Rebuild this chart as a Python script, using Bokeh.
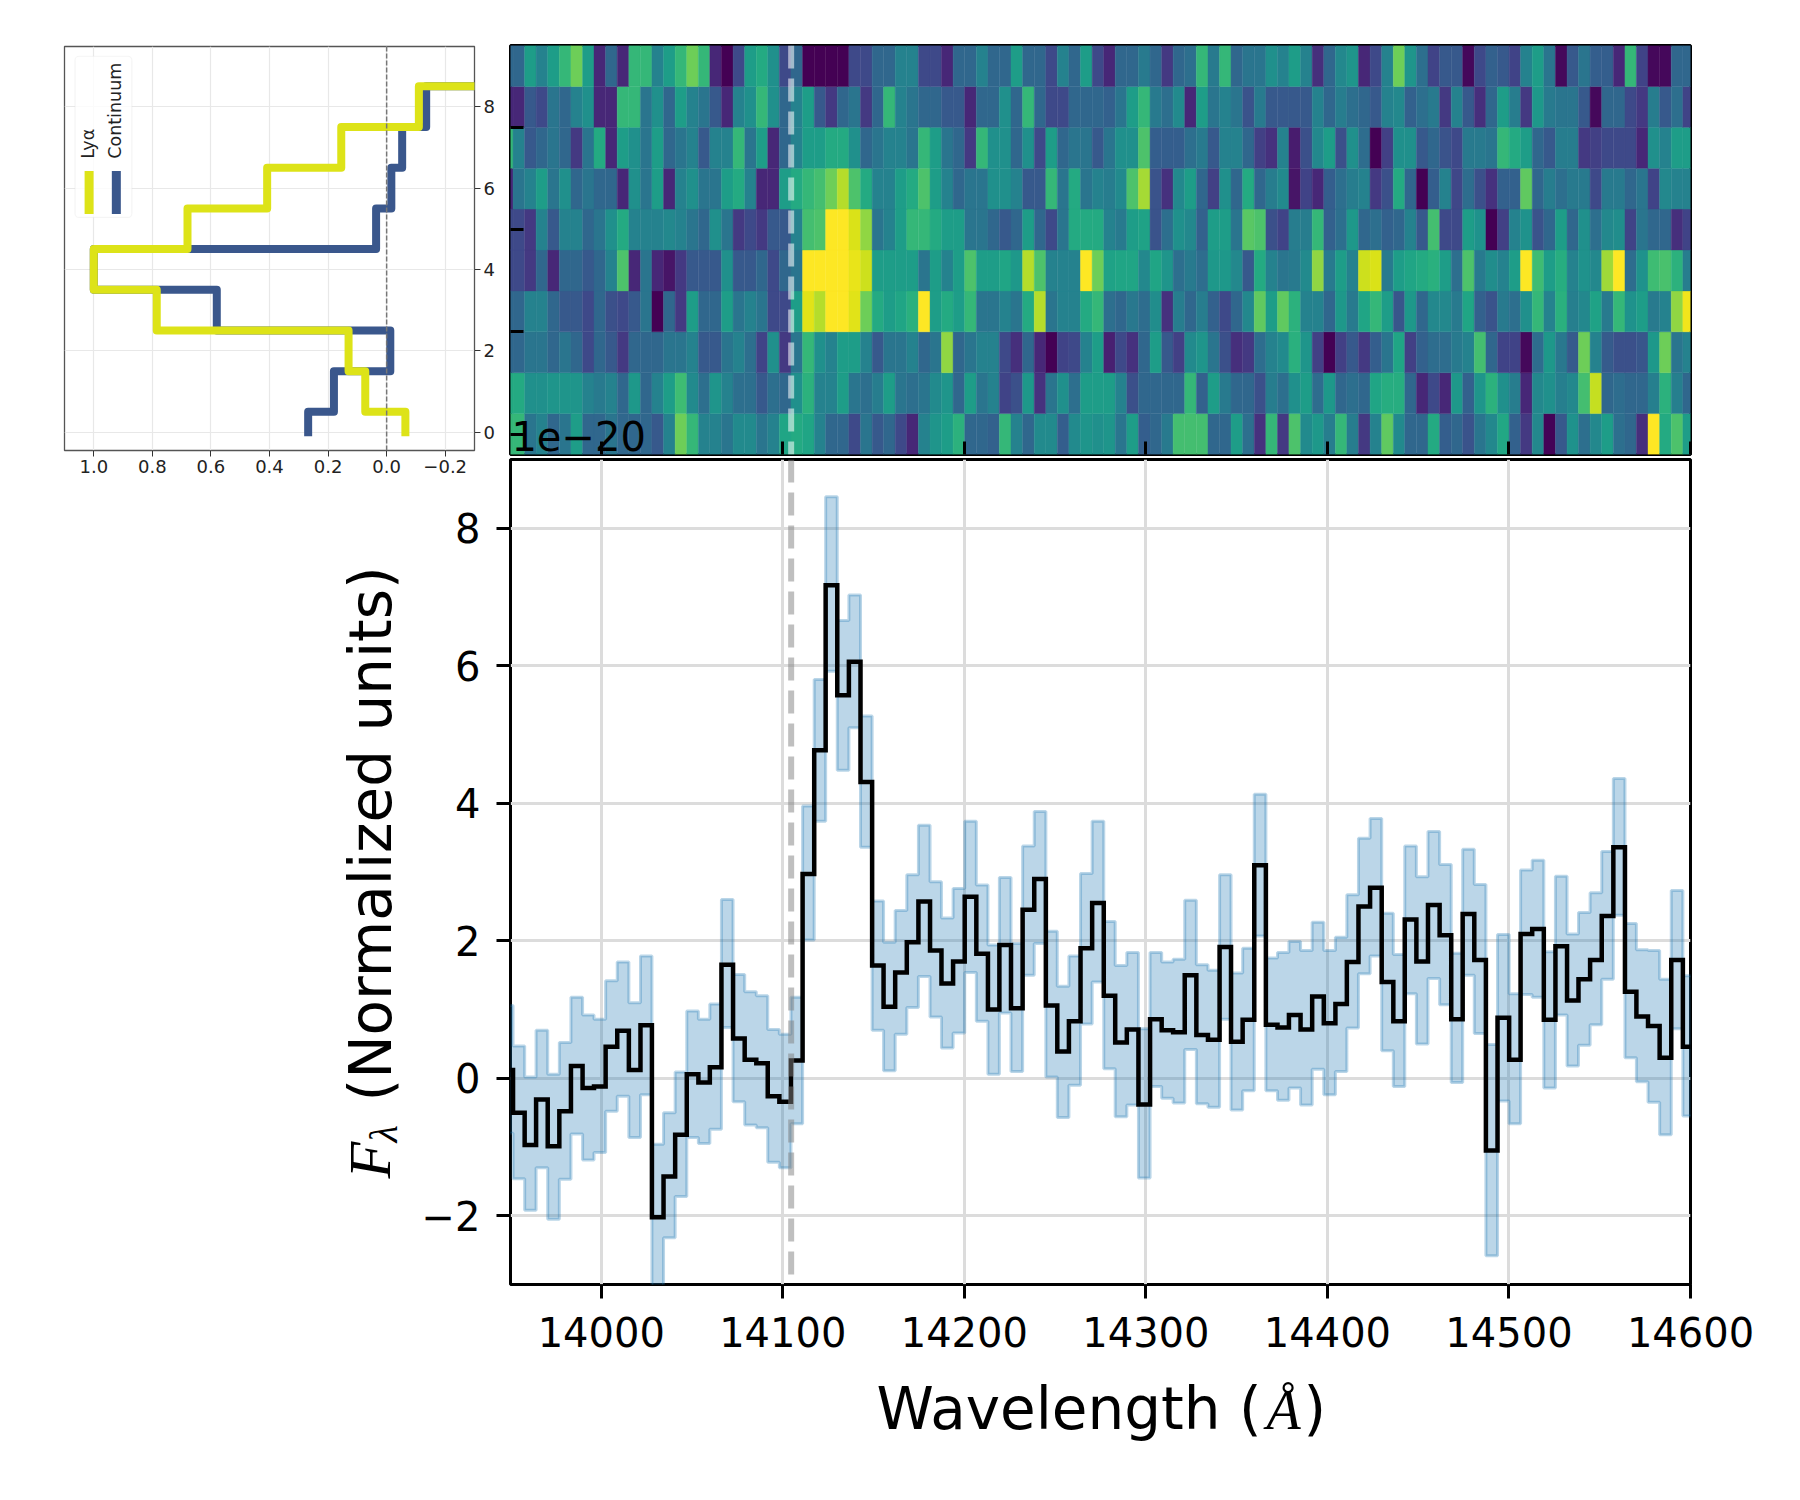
from bokeh.plotting import figure
from bokeh.layouts import column, row
from bokeh.models import Range1d, FixedTicker, Label, BoxAnnotation, Span
from bokeh.palettes import Viridis256
from bokeh.transform import linear_cmap
from bokeh.embed import file_html
from bokeh.resources import INLINE
import numpy as np

FONT = "DejaVu Sans"
SERIF = "Liberation Serif"

# wavelength bin edges (Angstrom)
wave_edges = [13945.0, 13951.4, 13957.8, 13964.1, 13970.5, 13976.9, 13983.3, 13989.7, 13996.0,
              14002.4, 14008.8, 14015.2, 14021.6, 14027.9, 14034.3, 14040.7, 14047.1, 14053.5,
              14059.8, 14066.2, 14072.6, 14079.0, 14085.4, 14091.7, 14098.1, 14104.5, 14110.9,
              14117.3, 14123.6, 14130.0, 14136.4, 14142.8, 14149.2, 14155.5, 14161.9, 14168.3,
              14174.7, 14181.1, 14187.4, 14193.8, 14200.2, 14206.6, 14213.0, 14219.3, 14225.7,
              14232.1, 14238.5, 14244.9, 14251.2, 14257.6, 14264.0, 14270.4, 14276.8, 14283.1,
              14289.5, 14295.9, 14302.3, 14308.7, 14315.0, 14321.4, 14327.8, 14334.2, 14340.6,
              14346.9, 14353.3, 14359.7, 14366.1, 14372.5, 14378.8, 14385.2, 14391.6, 14398.0,
              14404.4, 14410.7, 14417.1, 14423.5, 14429.9, 14436.3, 14442.6, 14449.0, 14455.4,
              14461.8, 14468.2, 14474.5, 14480.9, 14487.3, 14493.7, 14500.1, 14506.4, 14512.8,
              14519.2, 14525.6, 14532.0, 14538.3, 14544.7, 14551.1, 14557.5, 14563.9, 14570.2,
              14576.6, 14583.0, 14589.4, 14595.8, 14602.2]

# 1D spectrum and its error band
flux = [0.12, -0.5, -0.97, -0.31, -0.99, -0.48, 0.18, -0.14, -0.12, 0.46, 0.69, 0.12, 0.77, -2.02,
        -1.43, -0.82, 0.06, -0.06, 0.16, 1.65, 0.58, 0.27, 0.22, -0.26, -0.34, 0.26, 2.97, 4.77,
        7.17, 5.57, 6.06, 4.31, 1.64, 1.04, 1.54, 1.98, 2.57, 1.86, 1.38, 1.70, 2.64, 1.81, 1.0,
        1.94, 1.02, 2.45, 2.90, 1.06, 0.39, 0.83, 1.89, 2.55, 1.20, 0.52, 0.71, -0.38, 0.86, 0.70,
        0.67, 1.50, 0.63, 0.56, 1.91, 0.53, 0.85, 3.10, 0.78, 0.74, 0.92, 0.71, 1.19, 0.80, 1.08,
        1.69, 2.50, 2.77, 1.40, 0.83, 2.31, 1.70, 2.52, 2.08, 0.86, 2.39, 1.72, -1.05, 0.88, 0.27,
        2.10, 2.17, 0.85, 1.92, 1.13, 1.44, 1.72, 2.36, 3.36, 1.26, 0.90, 0.76, 0.30, 1.72, 0.46]
flux_upper = [1.06, 0.47, 0.02, 0.70, 0.06, 0.52, 1.18, 0.92, 0.86, 1.42, 1.69, 1.10, 1.78, -0.96,
              -0.50, 0.09, 0.98, 0.86, 1.08, 2.60, 1.51, 1.26, 1.20, 0.71, 0.64, 1.18, 3.96, 5.80,
              8.46, 6.66, 7.03, 5.27, 2.58, 1.98, 2.44, 2.96, 3.68, 2.86, 2.33, 2.76, 3.74, 2.81,
              1.94, 2.92, 1.96, 3.38, 3.88, 2.14, 1.34, 1.78, 2.98, 3.74, 2.28, 1.64, 1.83, 0.72,
              1.83, 1.69, 1.73, 2.59, 1.65, 1.57, 2.96, 1.53, 1.89, 4.13, 1.75, 1.83, 1.99, 1.86,
              2.27, 1.86, 2.05, 2.67, 3.49, 3.78, 2.40, 1.80, 3.38, 2.93, 3.59, 3.11, 1.82, 3.33,
              2.82, 0.49, 2.09, 1.23, 3.03, 3.17, 1.84, 2.94, 2.10, 2.41, 2.70, 3.30, 4.36, 2.25,
              1.87, 1.86, 1.44, 2.73, 1.49]
flux_lower = [-0.80, -1.46, -1.92, -1.30, -2.05, -1.47, -0.81, -1.19, -1.08, -0.48, -0.26, -0.86,
              -0.24, -3.10, -2.32, -1.72, -0.86, -0.95, -0.74, 0.74, -0.34, -0.68, -0.72, -1.22,
              -1.30, -0.66, 2.01, 3.74, 5.92, 4.48, 5.10, 3.36, 0.70, 0.11, 0.64, 1.03, 1.48, 0.89,
              0.44, 0.66, 1.54, 0.83, 0.06, 0.95, 0.10, 1.50, 1.96, 0.02, -0.57, -0.10, 0.79, 1.40,
              0.14, -0.56, -0.39, -1.45, -0.12, -0.29, -0.36, 0.42, -0.37, -0.42, 0.86, -0.46,
              -0.18, 2.07, -0.18, -0.32, -0.14, -0.39, 0.13, -0.24, 0.10, 0.73, 1.52, 1.78, 0.40,
              -0.12, 1.23, 0.50, 1.45, 1.07, -0.06, 1.50, 0.65, -2.58, -0.33, -0.66, 1.22, 1.18,
              -0.14, 0.92, 0.18, 0.48, 0.78, 1.44, 2.37, 0.30, -0.05, -0.35, -0.82, 0.72, -0.55]

# 2D spectrum, one list per spatial row (colour level 0-9)
heat_r0 = [6, 6, 3.5, 4, 3, 3.5, 5, 3, 3, 3.5, 3, 3, 3, 2.5, 4, 7, 6, 4, 4, 3.5, 4.3, 4.3, 3.5, 4, 5.3, 5.5,
           5.3, 4, 3, 3, 2, 3.5, 2.5, 3, 2, 1, 4, 4.7, 5, 5.8, 3, 3, 2.8, 6, 4, 3, 4.3, 4.3, 2.7, 4.3, 4.7,
           4.5, 4.7, 3.5, 5, 2.7, 3, 3.7, 6.3, 6.3, 6.3, 3, 3, 5, 3.3, 1.3, 6, 1.5, 6.5, 4.3, 4.8, 3.8, 6,
           3.8, 1.5, 4, 6.8, 4.3, 3, 3, 5.5, 2.7, 3, 2.3, 3.5, 4.2, 5.4, 2.8, 1.5, 4.2, 0.1, 2.5, 4.6, 3.3,
           4.2, 5, 3.3, 3, 1.2, 9, 5.5, 6.5, 5]
heat_r1 = [5.5, 5.5, 4.5, 4.5, 4.7, 4.7, 4.7, 4, 3.7, 4, 3, 4.8, 3, 4, 5, 6.2, 4.3, 3.3, 4.7, 4, 3.3, 3.3, 2.5,
           3.3, 3, 4.5, 5.8, 4, 4, 5, 3.5, 3.3, 3.8, 5, 3.5, 3.3, 3.5, 4.3, 4.7, 3, 5, 3.5, 4, 1.8, 2.2, 4.8,
           1.3, 3.5, 4.5, 3.3, 5, 5, 5, 4, 2.2, 3, 3, 3, 3, 6, 2.8, 5, 3.7, 3, 3, 2.2, 3.8, 3.3, 4.5, 5, 3.2,
           4.8, 3, 3.3, 3, 5.3, 5.6, 5.6, 3, 1, 2, 1, 4.8, 2.8, 4.7, 5.8, 4.5, 3.8, 1, 4.2, 4.5, 3.9, 4.2,
           6.3, 8.2, 3, 3.2, 3, 3, 3.9, 5.8, 3.9, 3]
heat_r2 = [3, 3, 3.5, 3.5, 3, 3.5, 3, 2, 3, 2.5, 1.5, 3, 3, 3, 3.5, 3.5, 4, 2.5, 2.5, 3.5, 4, 3.3, 1.8, 4.5,
           1.5, 3.5, 6, 4.5, 4, 5, 5, 4, 2.5, 3.5, 3.5, 4, 3, 3.5, 7.5, 3, 3.5, 4, 4, 2, 1.2, 3, 1, 0, 1.8, 2,
           4, 5, 0.8, 2, 1.3, 3, 5, 2.5, 1.7, 4.3, 4.7, 3.5, 2.2, 1.2, 1.5, 3.2, 4, 4.3, 5.7, 4.7, 1.7, 0,
           1.7, 2.5, 1.5, 2.7, 3.5, 5.3, 1.7, 2.8, 3.2, 3.2, 3.7, 4, 6.3, 3, 1.8, 1.8, 0.2, 3.2, 4.8, 3.6, 2.6,
           7, 4, 2.6, 2.2, 2.2, 2.4, 4.8, 7, 3.5, 4]
heat_r3 = [3, 3, 4, 4, 3, 2.5, 2.5, 2, 3, 2.2, 2, 2.5, 3.5, 0, 3, 1.5, 5, 3, 3, 5, 3.5, 4, 3.5, 2, 2, 5, 8.6, 8,
           9, 9, 8.6, 7, 5.5, 5, 5.3, 5.7, 9, 5, 5.5, 5, 6, 3.5, 3.5, 4, 3.5, 5.5, 8, 3.5, 4, 4, 5.5, 6, 3.3, 3,
           3.6, 3.2, 4.4, 1.3, 3.8, 3, 3.8, 2.8, 2, 3, 4.2, 6.8, 5, 6.8, 5.8, 4, 4, 3, 4.8, 3.7, 5.3, 6, 5, 2.4,
           4.8, 3, 4.2, 4.2, 3.7, 5.3, 2.8, 2.3, 3.7, 3.3, 4.5, 6, 4, 5.7, 3.9, 4.2, 5.2, 3.7, 6, 4.6, 5, 3.7, 4,
           7.5, 8.8]
heat_r4 = [2, 2, 1.5, 3, 1, 3, 3, 2.5, 3, 4, 6.5, 1, 3.5, 1, 0.5, 1.5, 2.5, 2.5, 2.5, 4.5, 2.5, 2.5, 3, 2, 3, 3.5,
           9, 9, 9, 9, 8.7, 8.3, 5, 5, 5, 5, 3.5, 5, 4, 5, 6.5, 5, 5, 5.3, 4.8, 8, 6.5, 4, 4, 4, 9, 7, 5.2, 5.3,
           5.3, 4.2, 5.3, 4.7, 3.3, 3.7, 3.2, 4.8, 4.8, 4.2, 2.5, 5.5, 4, 3.5, 3.7, 4.3, 7.5, 3.7, 5, 4, 8.3, 8.5,
           3.7, 5, 5.3, 5.5, 5.7, 5, 3.3, 6.5, 3.7, 4.4, 4, 5, 9, 6.2, 5, 5.6, 4, 4.6, 4.2, 7.7, 9, 3.2, 4.6, 6.2,
           6.4, 5.8, 3.8]
heat_r5 = [2, 2, 1.5, 4, 2.5, 4, 4, 3, 3.5, 4.5, 5.5, 4, 4, 4, 4.2, 4, 3.5, 3, 4.5, 3.5, 1.5, 2, 1.5, 2.5, 2.5, 4,
           6.3, 6.5, 9, 9, 8.5, 7.5, 3.5, 4, 5, 6, 6, 5.5, 5, 5, 3.5, 3.5, 3, 2.5, 3, 5, 3, 2, 3.5, 5.5, 5.5, 5.5,
           4, 3.7, 5, 5.2, 2.3, 3.3, 4.5, 4.2, 2.8, 5, 5, 3.5, 6.7, 6.5, 2.2, 1.8, 3.8, 3.8, 6, 2.8, 3.3, 4.8, 3,
           3.3, 2.8, 3, 4, 2.5, 6.3, 2, 2, 5, 4.6, 0, 1.7, 4, 4.6, 2.3, 3, 5, 3, 4.5, 3.3, 4.2, 4.4, 1.8, 3.5, 3,
           3, 1.2, 1.8]
heat_r6 = [1, 3.5, 4, 5, 3.5, 4.5, 3, 3.5, 3, 3, 1, 4.5, 3.5, 5, 1, 4, 4.5, 3.5, 3.5, 5, 5.5, 4, 1, 1, 5, 5.5, 6,
           6.3, 7, 8, 6.5, 5.5, 4, 4, 5, 5.5, 6.5, 5, 4, 3, 3.5, 3.5, 4.5, 4.5, 4, 2.5, 2.5, 6, 3.5, 5.5, 3.5, 4,
           3.8, 4.3, 6.5, 7.8, 2.3, 1.3, 4.2, 5, 3, 1.7, 4.5, 3, 5.5, 3, 3.8, 4.3, 0.5, 1.8, 1, 2.7, 3.3, 3.8, 4,
           1.5, 2.2, 5.5, 3, 0, 2.7, 4, 1.9, 3.2, 2.2, 1.3, 2.8, 2.8, 6.8, 3, 3.8, 3.3, 3.7, 3.7, 2, 3.7, 3.7, 3,
           3.5, 1.8, 4.2, 4, 4]
heat_r7 = [6, 4, 2.5, 3, 3.5, 3, 1.5, 3.5, 5.5, 1, 5, 4.5, 3.5, 5, 3, 3.5, 4, 2.5, 4, 4, 6, 3.5, 5, 1, 3, 4, 5, 5,
           5.5, 5.5, 4.5, 3, 3.5, 4, 4, 3.5, 6, 5, 3.5, 3, 1.5, 6, 4.5, 4.5, 3, 4.5, 2, 5, 3, 3.5, 3.5, 2.5, 3.5,
           4.5, 4.5, 6.5, 2.7, 2.7, 2.7, 3.3, 3.7, 2.5, 4, 4, 3, 1.7, 1.3, 4, 0.7, 2.2, 4.2, 5, 2.2, 4.5, 3.2, 0,
           1.7, 4.5, 4.5, 2.5, 3, 2.3, 2, 3.7, 3.7, 3.5, 6, 5.5, 5, 3, 2.5, 3.8, 3.8, 1.5, 1.7, 2, 2, 2, 1, 4.5, 4,
           5, 5]
heat_r8 = [1, 1, 2.5, 2, 3.5, 3, 4, 4.5, 1, 1, 6, 6, 3.5, 4.5, 3, 5, 4, 3.5, 2.5, 1, 4, 4.5, 6, 4.5, 3, 4, 5, 2.5,
           1.5, 3, 3.5, 1.5, 3, 6, 4, 3.5, 3, 3, 2.5, 2.5, 1, 3, 3, 4.5, 3, 6, 3, 2, 2, 3, 3, 3, 2.8, 3.5, 5, 6,
           3.7, 3.3, 4.3, 1, 5, 3.5, 4, 3.5, 2.3, 3.7, 2.5, 2.5, 2.5, 2.5, 4, 3, 3.8, 3.3, 3, 2.5, 4, 4.2, 2.8, 3.3,
           3.7, 1.5, 4, 2.5, 1.2, 3, 5, 3.8, 1.5, 4.8, 3.7, 3.5, 3.5, 2.5, 0.2, 3, 3, 2, 1.5, 3.8, 2.5, 3.3, 1.8]
heat_r9 = [3, 3, 5, 4, 5, 6, 7, 5, 1, 3, 1, 6, 6, 4, 5, 6, 7, 6, 1, 0, 2, 5, 5.5, 4.5, 2, 3, 0, 0, 0, 0, 2, 2, 3, 3,
           4, 4, 2, 2, 1, 3, 3, 4, 3, 3, 5, 3, 3, 2, 4, 3, 5, 2, 1, 3, 3, 3.7, 3, 1.5, 3, 3.3, 6, 3.7, 6, 3, 3.5, 3.5,
           4.5, 4, 5, 4, 1.2, 3, 4.2, 4.7, 1, 2, 4, 7, 4.7, 3.3, 1.8, 2.5, 2.5, 0.2, 2, 2.8, 2.5, 1.8, 4, 5, 3.5,
           0.2, 2.5, 3.5, 2.7, 2.7, 1, 6, 1.8, 0.2, 0.2, 3, 3]
heat_rows = [heat_r0, heat_r1, heat_r2, heat_r3, heat_r4, heat_r5, heat_r6, heat_r7, heat_r8, heat_r9]

# spatial profiles, side panel
profile_rows = [0, 1, 2, 3, 4, 5, 6, 7, 8, 9]
lya_profile = [-0.064, 0.073, 0.13, 0.785, 1.0, 0.68, 0.408, 0.155, -0.11, -0.55]
cont_profile = [0.268, 0.18, -0.0125, 0.58, 1.0, 0.036, -0.016, -0.053, -0.135, -0.55]

# ticks
wave_ticks = [14000, 14100, 14200, 14300, 14400, 14500, 14600]
flux_ticks = [-2, 0, 2, 4, 6, 8]
flux_labels = ["\u22122", "0", "2", "4", "6", "8"]
heat_y_ticks = [0, 2.5, 5, 7.5]
prof_x_ticks = [1.0, 0.8, 0.6, 0.4, 0.2, 0.0, -0.2]
prof_x_labels = ["1.0", "0.8", "0.6", "0.4", "0.2", "0.0", "\u22120.2"]
prof_y_ticks = [0, 2, 4, 6, 8]

LINE_WAVE = 14104.6
YELLOW = "#dde318"
BLUE = "#3a578c"
BAND = "#1f77b4"


def steps_mid(rows, vals):
    # vertical version of a steps-mid line
    xs, ys = [vals[0]], [rows[0]]
    for i in range(1, len(rows)):
        mid = (rows[i - 1] + rows[i]) / 2
        xs += [vals[i - 1], vals[i]]
        ys += [mid, mid]
    xs.append(vals[-1])
    ys.append(rows[-1])
    return xs, ys


# ---- side panel
prof = figure(width=498, height=482, x_range=Range1d(1.1, -0.3), y_range=Range1d(-0.45, 9.48),
              y_axis_location="right", toolbar_location=None, output_backend="svg", frame_align=False,
              min_border_left=64, min_border_right=24, min_border_top=46, min_border_bottom=32,
              border_fill_color=None)
prof.xaxis.ticker = FixedTicker(ticks=prof_x_ticks)
prof.xaxis.major_label_overrides = dict(zip(prof_x_ticks, prof_x_labels))
prof.yaxis.ticker = FixedTicker(ticks=prof_y_ticks)
prof.axis.major_label_text_font = FONT
prof.axis.major_label_text_font_size = "18px"
prof.axis.major_label_text_color = "#222222"
prof.axis.major_tick_in = 0
prof.axis.major_tick_out = 6
prof.axis.major_tick_line_color = "#333333"
prof.axis.major_tick_line_width = 1
prof.axis.minor_tick_line_color = None
prof.axis.axis_line_color = None
prof.axis.major_label_standoff = 3
prof.xgrid.ticker = FixedTicker(ticks=prof_x_ticks)
prof.ygrid.ticker = FixedTicker(ticks=prof_y_ticks)
prof.grid.grid_line_color = "#e8e8e8"
prof.grid.grid_line_width = 1.2
prof.outline_line_color = "#555555"
prof.outline_line_width = 1.3
prof.add_layout(Span(location=0, dimension="height", line_color="#777777", line_width=1.5,
                     line_dash="5 2"))
cx, cy = steps_mid(profile_rows, cont_profile)
lx, ly = steps_mid(profile_rows, lya_profile)
prof.line(cx, cy, line_color=BLUE, line_width=8, line_join="round", line_cap="square")
prof.line(lx, ly, line_color=YELLOW, line_width=8, line_join="round", line_cap="square")
# rotated legend
prof.add_layout(BoxAnnotation(left=1.064, right=0.87, top=9.24, bottom=5.28, fill_color="white",
                              fill_alpha=0.8, line_color="#dddddd", line_width=1.2, border_radius=4,
                              level="underlay"))
prof.line([1.016, 1.016], [5.36, 6.42], line_color=YELLOW, line_width=9)
prof.line([0.923, 0.923], [5.36, 6.42], line_color=BLUE, line_width=9)
prof.add_layout(Label(x=0.985, y=6.72, text="Ly\u03b1", angle=np.pi / 2, text_font=FONT,
                      text_font_size="17.5px", text_color="#222222"))
prof.add_layout(Label(x=0.895, y=6.72, text="Continuum", angle=np.pi / 2, text_font=FONT,
                      text_font_size="17.5px", text_color="#222222"))

# ---- 2D spectrum
heat = figure(width=1202, height=482, x_range=Range1d(13950, 14600), y_range=Range1d(-0.5, 9.5),
              toolbar_location=None, output_backend="svg", frame_align=False,
              min_border_left=12, min_border_right=10, min_border_top=45, min_border_bottom=28,
              border_fill_color=None)
left, right, bottom, top, level = [], [], [], [], []
for r, cells in enumerate(heat_rows):
    assert len(cells) == len(wave_edges) - 1, (r, len(cells))
    for c, v in enumerate(cells):
        left.append(wave_edges[c])
        right.append(wave_edges[c + 1])
        bottom.append(r - 0.5)
        top.append(r + 0.5)
        level.append(v)
cmap = linear_cmap("level", Viridis256, 0, 9)
heat.quad(left="left", right="right", bottom="bottom", top="top", fill_color=cmap, line_color=cmap,
          line_width=0.4, source=dict(left=left, right=right, bottom=bottom, top=top, level=level))
heat.add_layout(Span(location=LINE_WAVE, dimension="height", line_color="white", line_alpha=0.55,
                     line_width=6, line_dash="23 10"))
heat.xaxis.ticker = FixedTicker(ticks=wave_ticks)
heat.yaxis.ticker = FixedTicker(ticks=heat_y_ticks)
heat.axis.major_label_text_color = None
heat.axis.major_label_text_font_size = "1px"
heat.axis.major_tick_in = 13
heat.axis.major_tick_out = 0
heat.axis.major_tick_line_color = "black"
heat.axis.major_tick_line_width = 3
heat.axis.minor_tick_line_color = None
heat.axis.axis_line_color = None
heat.grid.grid_line_color = None
heat.outline_line_color = "black"
heat.outline_line_width = 3
heat.add_layout(Label(x=13950.5, y=-0.41, text="1e\u221220", text_font=FONT, text_font_size="40px",
                      text_color="black"))

# ---- 1D spectrum
spec = figure(width=1780, height=1025, x_range=Range1d(13950, 14600), y_range=Range1d(-3, 9),
              toolbar_location=None, output_backend="svg", margin=(-25, 0, 0, 0), frame_align=False,
              min_border_left=510, min_border_right=90, min_border_top=2, min_border_bottom=198,
              border_fill_color=None)
edges = np.array(wave_edges)
y_mid = np.array(flux + flux[-1:])
y_up = np.array(flux_upper + flux_upper[-1:])
y_lo = np.array(flux_lower + flux_lower[-1:])
spec.varea_step(x=edges, y1=y_lo, y2=y_up, step_mode="after", fill_color=BAND, fill_alpha=0.3)
spec.step(edges, y_up, mode="after", line_color=BAND, line_alpha=0.3, line_width=3)
spec.step(edges, y_lo, mode="after", line_color=BAND, line_alpha=0.3, line_width=3)
spec.add_layout(Span(location=LINE_WAVE, dimension="height", line_color="gray", line_alpha=0.5,
                     line_width=6, line_dash="23 10"))
spec.step(edges, y_mid, mode="after", line_color="black", line_width=4.5, line_join="miter")
spec.xaxis.ticker = FixedTicker(ticks=wave_ticks)
spec.yaxis.ticker = FixedTicker(ticks=flux_ticks)
spec.yaxis.major_label_overrides = dict(zip(flux_ticks, flux_labels))
spec.axis.major_label_text_font = FONT
spec.axis.major_label_text_font_size = "40px"
spec.axis.major_label_text_color = "black"
spec.axis.major_tick_in = 0
spec.axis.major_tick_out = 14
spec.axis.major_tick_line_color = "black"
spec.axis.major_tick_line_width = 3
spec.axis.minor_tick_line_color = None
spec.axis.axis_line_color = None
spec.xaxis.major_label_standoff = 18
spec.yaxis.major_label_standoff = 16
spec.xgrid.ticker = FixedTicker(ticks=wave_ticks)
spec.ygrid.ticker = FixedTicker(ticks=flux_ticks)
spec.grid.grid_line_color = "#dcdcdc"
spec.grid.grid_line_width = 3
spec.outline_line_color = "black"
spec.outline_line_width = 3

# ---- axis titles: labels outside a frame get cut, so they sit in a see-through
# figure laid over the lower plot, with its ranges in page pixels
titles = figure(width=1780, height=1025, x_range=Range1d(0, 1780), y_range=Range1d(1482, 457),
                x_axis_location=None, y_axis_location=None, frame_align=False,
                toolbar_location=None, output_backend="svg", margin=(-1025, 0, 0, 0),
                min_border=0, border_fill_color=None, background_fill_color=None,
                outline_line_color=None)
titles.grid.visible = False
title_style = dict(text_color="black")
titles.add_layout(Label(x=876, y=1442, text="Wavelength (", text_font=FONT, text_font_size="58px",
                        **title_style))
titles.add_layout(Label(x=1266, y=1440, text="\u00c5", text_font=SERIF, text_font_style="italic",
                        text_font_size="56px", **title_style))
titles.add_layout(Label(x=1303, y=1442, text=")", text_font=FONT, text_font_size="58px", **title_style))
titles.add_layout(Label(x=404, y=1101, text="(Normalized units)", angle=np.pi / 2, text_font=FONT,
                        text_font_size="58px", **title_style))
titles.add_layout(Label(x=402, y=1178, text="F", angle=np.pi / 2, text_font=SERIF,
                        text_font_style="italic", text_font_size="60px", **title_style))
titles.add_layout(Label(x=405, y=1142, text="\u03bb", angle=np.pi / 2, text_font=SERIF,
                        text_font_style="italic", text_font_size="40px", **title_style))

page = column(row(prof, heat, spacing=0), spec, titles, spacing=0)
open("out.html", "w").write(file_html(page, INLINE))
